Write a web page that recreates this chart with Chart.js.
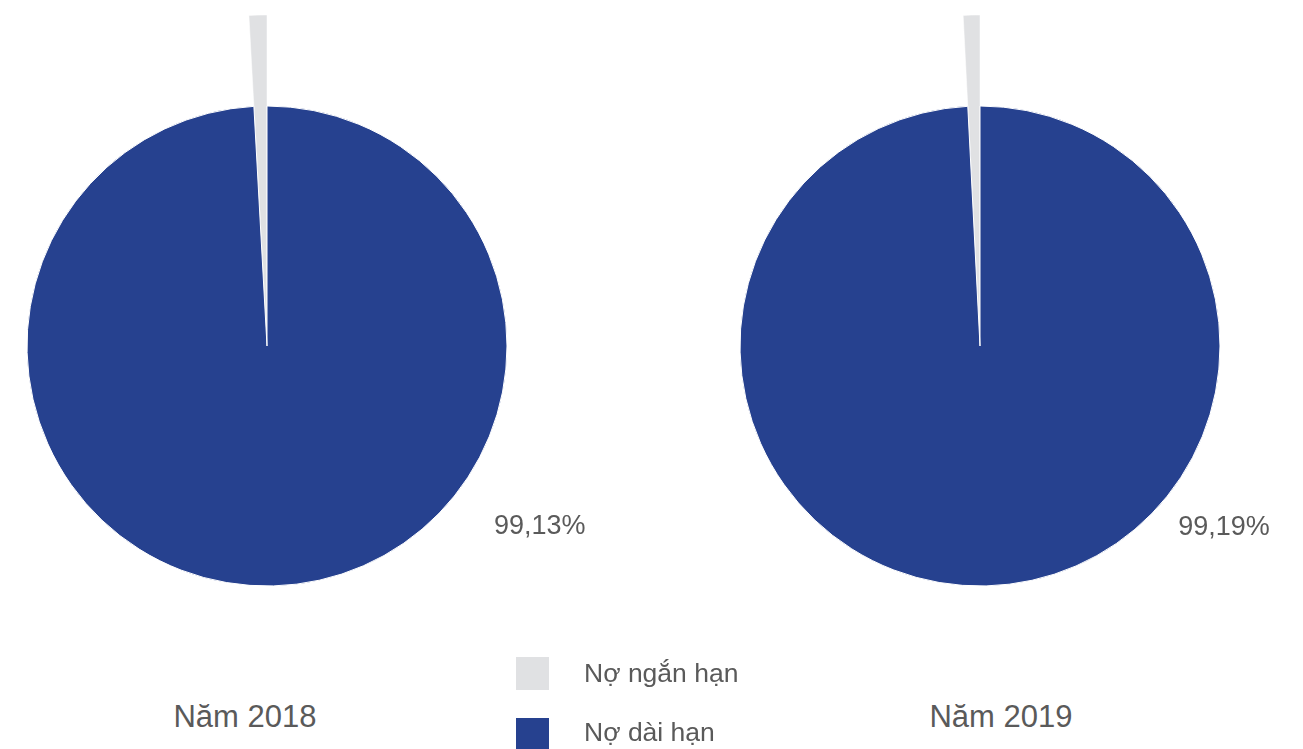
<!DOCTYPE html>
<html>
<head>
<meta charset="utf-8">
<script src="https://cdn.jsdelivr.net/npm/chart.js@4/dist/chart.umd.min.js"></script>
<style>
  html, body { margin: 0; padding: 0; background: #fff; }
  body { width: 1303px; height: 749px; position: relative; overflow: hidden; font-family: 'Liberation Sans', Arial, sans-serif; color: #5a5a5a; }
  .box { position: absolute; top: 0; height: 692px; }
  .title { position: absolute; top: 697px; font-size: 31px; line-height: 40px; width: 300px; text-align: center; }
  .legend { position: absolute; left: 516px; top: 657px; }
  .legend .row { display: flex; align-items: center; height: 33px; margin-bottom: 28px; }
  .legend .row + .row .tx { margin-top: -5px; }
  .legend .sw { width: 33px; height: 33px; margin-right: 35px; flex: none; }
  .legend .tx { font-size: 26.5px; }
</style>
</head>
<body>
<div class="box" style="left:0;width:640px"><canvas id="pie2018"></canvas></div>
<div class="box" style="left:680px;width:623px"><canvas id="pie2019"></canvas></div>
<div class="title" style="left:95px" id="t0"></div>
<div class="title" style="left:851px" id="t1"></div>
<div class="legend" id="legend"></div>

<script>
const categories = ['Nợ ngắn hạn', 'Nợ dài hạn']
const years = ['Năm 2018', 'Năm 2019']
const share2018 = [0.87, 99.13]
const share2019 = [0.81, 99.19]
const sliceColors = ['#e0e1e3', '#26418f']

// the small slice sticks out past the pie
const longSlice = {
    id: 'longSlice',
    afterDatasetsUpdate(chart, args, opts) {
        const arc = chart.getDatasetMeta(0).data[0]
        if (arc) arc.outerRadius = opts.radius
    }
}

const pctLabel = {
    id: 'pctLabel',
    afterDatasetsDraw(chart, args, opts) {
        const meta = chart.getDatasetMeta(0)
        const arc = meta.data[1]
        const value = chart.data.datasets[0].data[1]
        const a = opts.angle * Math.PI / 180
        const ctx = chart.ctx
        ctx.save()
        ctx.font = '27px "Liberation Sans", Arial, sans-serif'
        ctx.fillStyle = '#5a5a5a'
        ctx.textAlign = 'center'
        ctx.textBaseline = 'middle'
        ctx.fillText(value.toFixed(2).replace('.', ',') + '%',
            arc.x + Math.cos(a) * opts.dist, arc.y + Math.sin(a) * opts.dist)
        ctx.restore()
    }
}

const makePie = (id, values, padRight, label) => new Chart(document.getElementById(id), {
    type: 'pie',
    data: {
        labels: categories,
        datasets: [{
            data: values,
            backgroundColor: sliceColors,
            borderColor: '#ffffff',
            borderWidth: [0.5, 1],
            clip: false,
        }],
    },
    options: {
        responsive: true,
        maintainAspectRatio: false,
        animation: false,
        radius: 240,
        rotation: -values[0] * 3.6,
        layout: { padding: { left: 0, right: padRight, top: 0, bottom: 0 } },
        plugins: {
            legend: { display: false },
            tooltip: { enabled: false },
            longSlice: { radius: 331 },
            pctLabel: label,
        },
    },
    plugins: [longSlice, pctLabel],
})

makePie('pie2018', share2018, 106, { angle: 33.5, dist: 327 })
makePie('pie2019', share2019, 23, { angle: 36.6, dist: 304 })

document.getElementById('t0').textContent = years[0]
document.getElementById('t1').textContent = years[1]

const legend = document.getElementById('legend')
categories.forEach((c, i) => {
    const row = document.createElement('div')
    row.className = 'row'
    row.innerHTML = '<div class="sw" style="background:' + sliceColors[i] + '"></div><div class="tx">' + c + '</div>'
    legend.appendChild(row)
})
</script>
</body>
</html>
